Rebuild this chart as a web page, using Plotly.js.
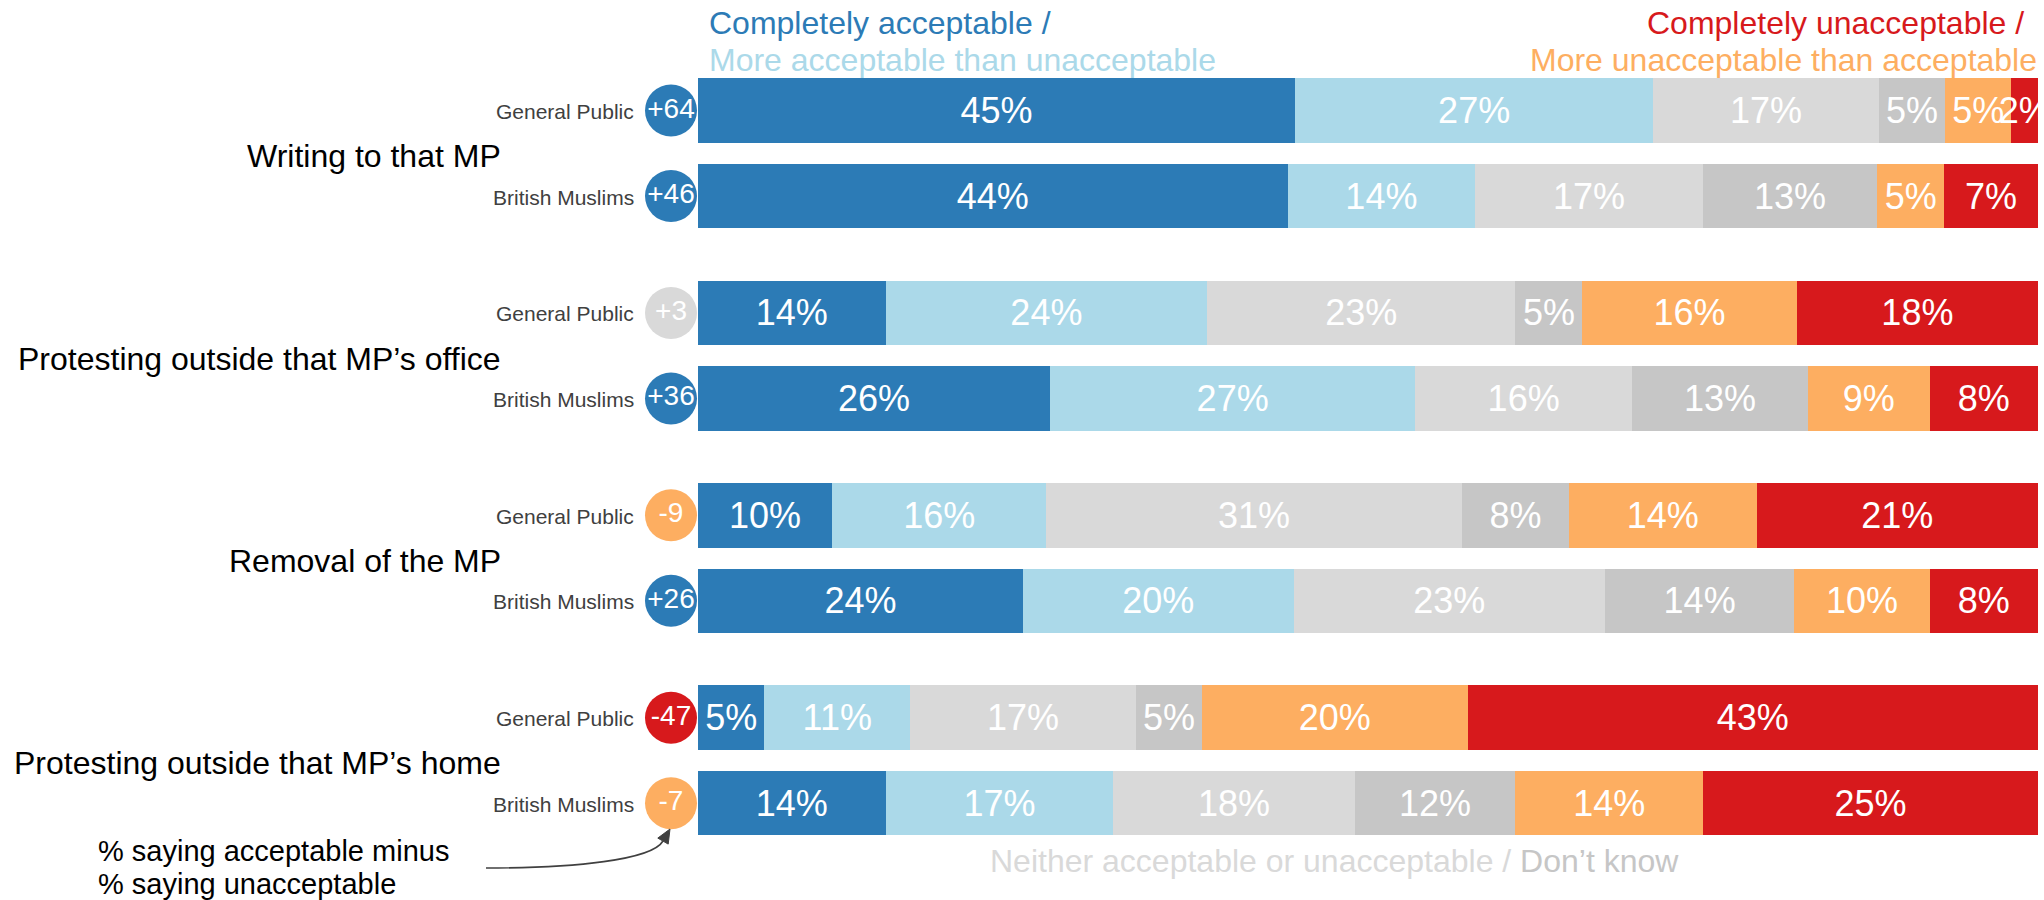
<!DOCTYPE html>
<html>
<head>
<meta charset="utf-8">
<script src="https://cdn.plot.ly/plotly-3.0.1.min.js"></script>
<style>
  html, body { margin: 0; padding: 0; background: #ffffff; }
  #chart { width: 2044px; height: 900px; }
</style>
</head>
<body>
<div id="chart"></div>
<script>
// ---------------- DATA ----------------
const questions = ['Writing to that MP', 'Protesting outside that MP’s office', 'Removal of the MP', 'Protesting outside that MP’s home'];
const groups = ['General Public', 'British Muslims'];
const seriesNames = ['Completely acceptable', 'More acceptable than unacceptable', 'Neither acceptable or unacceptable', 'Don’t know', 'More unacceptable than acceptable', 'Completely unacceptable'];
// rows: question 1 GP, question 1 BM, question 2 GP, ...
const completelyAcceptable   = [45, 44, 14, 26, 10, 24,  5, 14];
const moreAcceptable         = [27, 14, 24, 27, 16, 20, 11, 17];
const neitherAcc             = [17, 17, 23, 16, 31, 23, 17, 18];
const dontKnow               = [ 5, 13,  5, 13,  8, 14,  5, 12];
const moreUnacceptable       = [ 5,  5, 16,  9, 14, 10, 20, 14];
const completelyUnacceptable = [ 2,  7, 18,  8, 21,  8, 43, 25];
const netScores              = [64, 46,  3, 36, -9, 26, -47, -7];

// ---------------- STYLE / LAYOUT ----------------
const colors = ['#2c7bb6', '#abd9e9', '#d9d9d9', '#c6c6c6', '#fdae61', '#d7191c'];
const FONT = 'Liberation Sans, Arial, Helvetica, sans-serif';
const W = 2044, H = 900;
const BAR_LEFT = 698, BAR_RIGHT = 2038;
const ROW0 = 110.5, PAIR = 85.5, GROUP = 202.4, BAR_H = 64.5;
const CIRCLE_X = 671, LABEL_RIGHT = 636, QUESTION_RIGHT = 503;

const nRows = questions.length * groups.length;
const rowY = [];
const rowLabel = [];
for (let i = 0; i < nRows; i++) {
  rowY.push(ROW0 + Math.floor(i / 2) * GROUP + (i % 2) * PAIR);
  rowLabel.push(groups[i % 2]);
}

const seriesValues = [completelyAcceptable, moreAcceptable, neitherAcc, dontKnow, moreUnacceptable, completelyUnacceptable];

const traces = seriesValues.map((vals, k) => ({
  type: 'bar',
  orientation: 'h',
  name: seriesNames[k],
  x: vals,
  y: rowY,
  width: BAR_H,
  xaxis: 'x',
  yaxis: 'y',
  marker: { color: colors[k], line: { width: 0 } },
  text: vals.map(String),
  texttemplate: '%{text}%',
  textposition: 'inside',
  insidetextanchor: 'middle',
  textangle: 0,
  constraintext: 'none',
  insidetextfont: { family: FONT, size: 36, color: '#ffffff' },
  hoverinfo: 'skip',
  showlegend: false
}));

function netColor(v) {
  if (v >= 10) return colors[0];
  if (v >= 0) return colors[2];
  if (v > -20) return colors[4];
  return colors[5];
}

traces.push({
  type: 'scatter',
  mode: 'markers+text',
  x: rowY.map(() => CIRCLE_X),
  y: rowY,
  xaxis: 'x2',
  yaxis: 'y',
  marker: { size: 52, color: netScores.map(netColor), line: { width: 0 } },
  text: netScores.map(v => (v > 0 ? '+' : '') + v),
  textposition: 'middle center',
  textfont: { family: FONT, size: 28, color: '#ffffff' },
  cliponaxis: false,
  hoverinfo: 'skip',
  showlegend: false
});

const annotations = [];
function addText(text, x, y, size, color, xanchor) {
  annotations.push({
    text: text, x: x, y: y, xref: 'x2', yref: 'y',
    xanchor: xanchor, yanchor: 'middle', showarrow: false,
    font: { family: FONT, size: size, color: color }
  });
}

// row labels
rowY.forEach((y, i) => addText(rowLabel[i], LABEL_RIGHT, y + 1, 21, '#404040', 'right'));
// question labels
questions.forEach((q, g) => addText(q, QUESTION_RIGHT, (rowY[2 * g] + rowY[2 * g + 1]) / 2 + 3, 32, '#000000', 'right'));
// headers
addText('Completely acceptable /', 707, 23, 32, colors[0], 'left');
addText('More acceptable than unacceptable', 707, 60, 32, colors[1], 'left');
addText('Completely unacceptable /', 2026, 23, 32, colors[5], 'right');
addText('More unacceptable than acceptable', 2039, 60, 32, colors[4], 'right');
// bottom legend text
addText('<span style="color:#d9d9d9">Neither acceptable or unacceptable / </span><span style="color:#c6c6c6">Don’t know</span>', 988, 861, 32, '#d9d9d9', 'left');
// note
addText('% saying acceptable minus', 96, 851, 29, '#000000', 'left');
addText('% saying unacceptable', 96, 884, 29, '#000000', 'left');

const shapes = [
  { type: 'path', xref: 'x2', yref: 'y', path: 'M 486 868 C 575 868 652 860 663 841', line: { color: '#404040', width: 1.6 } },
  { type: 'path', xref: 'x2', yref: 'y', path: 'M 670 829 L 668.2 844.1 L 657.8 838.1 Z', fillcolor: '#404040', line: { color: '#404040', width: 1 } }
];

const layout = {
  width: W, height: H,
  margin: { l: 0, r: 0, t: 0, b: 0, pad: 0 },
  paper_bgcolor: '#ffffff', plot_bgcolor: 'rgba(0,0,0,0)',
  barmode: 'stack', barnorm: 'percent',
  showlegend: false,
  xaxis: { domain: [BAR_LEFT / W, BAR_RIGHT / W], range: [0, 100], visible: false, fixedrange: true },
  xaxis2: { domain: [0, 1], range: [0, W], anchor: 'y', visible: false, fixedrange: true },
  yaxis: { domain: [0, 1], range: [H, 0], visible: false, fixedrange: true },
  annotations: annotations,
  shapes: shapes
};

Plotly.newPlot('chart', traces, layout, { displayModeBar: false, staticPlot: true });
</script>
</body>
</html>
